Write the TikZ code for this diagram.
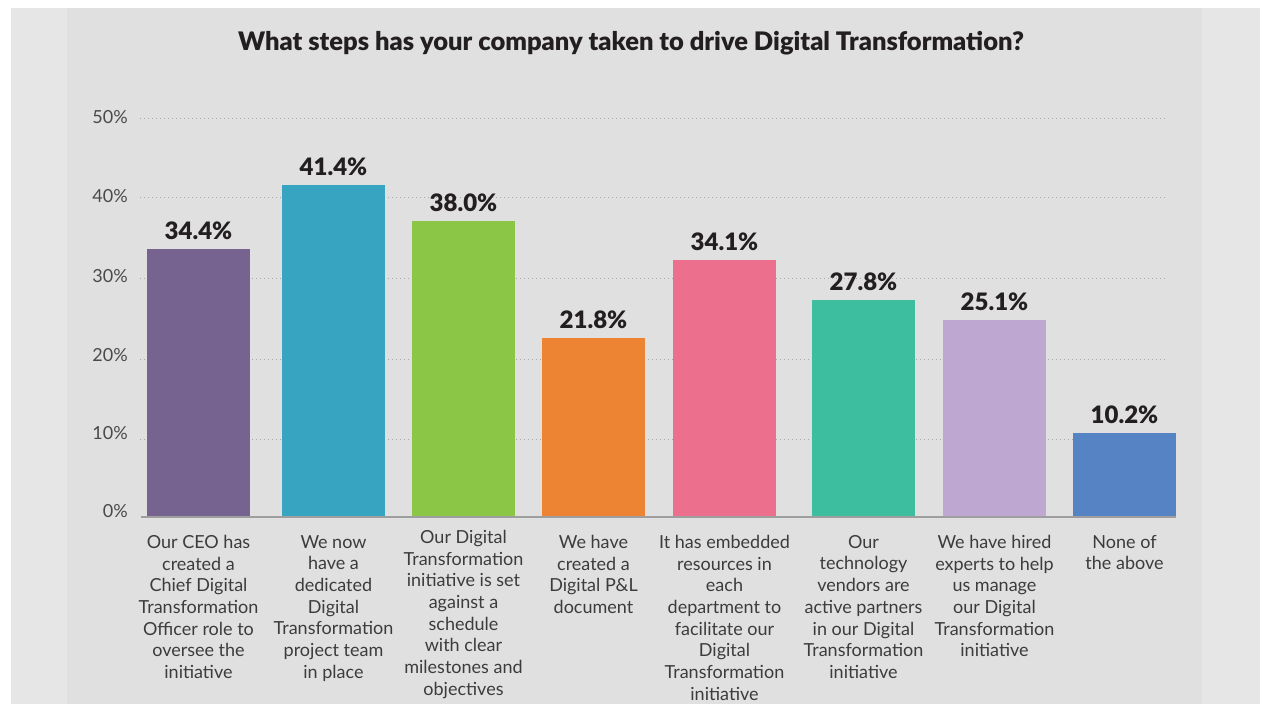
\documentclass[tikz,border=0pt]{standalone}
\usepackage{fontspec}
\setmainfont{Lato}
\newfontfamily\heavyfont{Lato Black}
\definecolor{outerbg}{HTML}{E6E6E6}
\definecolor{innerbg}{HTML}{E0E0E0}
\definecolor{gridc}{HTML}{A8A8A8}
\definecolor{axisc}{HTML}{9E9E9E}
\definecolor{txt}{HTML}{3C3C3C}
\definecolor{ytxt}{HTML}{4A4A4A}
\definecolor{valtxt}{HTML}{231F20}
\definecolor{cA}{HTML}{76638F}
\definecolor{cB}{HTML}{37A4C1}
\definecolor{cC}{HTML}{8BC646}
\definecolor{cD}{HTML}{ED8434}
\definecolor{cE}{HTML}{EC708D}
\definecolor{cF}{HTML}{3DBF9F}
\definecolor{cG}{HTML}{BEA7D0}
\definecolor{cH}{HTML}{5583C3}
\begin{document}
\begin{tikzpicture}[x=1pt,y=-1pt,
  gridline/.style={gridc,line width=1pt,dash pattern=on 1pt off 3pt},
  axisline/.style={axisc,line width=1.3pt},
  ylab/.style={anchor=east,inner sep=0pt,text=ytxt,font=\fontsize{18}{20}\selectfont},
  vallab/.style={anchor=base,inner sep=0pt,text=valtxt,font=\fontsize{24}{26}\heavyfont},
  catlab/.style={anchor=north,inner sep=0pt,text=txt,align=center,font=\fontsize{18}{21.7}\selectfont},
  titlelab/.style={anchor=base,inner sep=0pt,text=valtxt,font=\fontsize{25.5}{28}\heavyfont}
]
\useasboundingbox (0,0) rectangle (1264,704);
\fill[white] (0,0) rectangle (1264,704);
\fill[outerbg] (11,8) rectangle (1260,704);
\fill[innerbg] (67,8) rectangle (1202,704);

\node[titlelab] (title) at (631,50) {What steps has your company taken to drive Digital Transformation?};

% grid
\foreach \yy in {118,197.3,278,359.3,439}{
  \draw[gridline] (140,\yy) -- (1168,\yy);
}
\node[ylab] (y50) at (128,117) {50\%};
\node[ylab] (y40) at (128,196) {40\%};
\node[ylab] (y30) at (128,276) {30\%};
\node[ylab] (y20) at (128,355) {20\%};
\node[ylab] (y10) at (128,433) {10\%};
\node[ylab] (y0) at (128,511) {0\%};

% bars
\fill[cA] (147,249) rectangle (250,517);
\fill[cB] (282,185) rectangle (385,517);
\fill[cC] (412,221) rectangle (515,517);
\fill[cD] (542,338) rectangle (645,517);
\fill[cE] (673,260) rectangle (776,517);
\fill[cF] (812,300) rectangle (915,517);
\fill[cG] (943,320) rectangle (1046,517);
\fill[cH] (1073,433) rectangle (1176,517);

\coordinate (axL) at (141,517);
\coordinate (axR) at (1176,517);
\draw[axisline] (axL) -- (axR);

% values
\node[vallab] (v1) at (198.5,239.5) {34.4\%};
\node[vallab] (v2) at (333.5,175.5) {41.4\%};
\node[vallab] (v3) at (463.5,211.5) {38.0\%};
\node[vallab] (v4) at (593.5,328.5) {21.8\%};
\node[vallab] (v5) at (724.5,250.5) {34.1\%};
\node[vallab] (v6) at (863.5,290.5) {27.8\%};
\node[vallab] (v7) at (994.5,310.5) {25.1\%};
\node[vallab] (v8) at (1124.5,423.5) {10.2\%};

% category labels
\node[catlab] (l1) at (198.5,535) {Our CEO has\\created a\\Chief Digital\\Transformation\\Officer role to\\oversee the\\initiative};
\node[catlab] (l2) at (333.5,535) {We now\\have a\\dedicated\\Digital\\Transformation\\project team\\in place};
\node[catlab] (l3) at (463.5,530) {Our Digital\\Transformation\\initiative is set\\against a\\schedule\\with clear\\milestones and\\objectives};
\node[catlab] (l4) at (593.5,535) {We have\\created a\\Digital P\&L\\document};
\node[catlab] (l5) at (724.5,535) {It has embedded\\resources in\\each\\department to\\facilitate our\\Digital\\Transformation\\initiative};
\node[catlab] (l6) at (863.5,535) {Our\\technology\\vendors are\\active partners\\in our Digital\\Transformation\\initiative};
\node[catlab] (l7) at (994.5,535) {We have hired\\experts to help\\us manage\\our Digital\\Transformation\\initiative};
\node[catlab] (l8) at (1124.5,535) {None of\\the above};
\end{tikzpicture}
\end{document}
